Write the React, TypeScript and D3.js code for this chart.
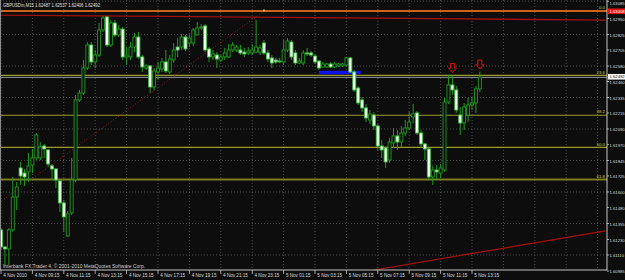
import React from "react";
import * as d3 from "d3";

const W = 625;
const H = 280;
const PLOT_R = 607;
const PLOT_B = 270;

const titleText = "GBPUSDm,M15  1.62487 1.62537 1.62406 1.62492";
const copyrightText = "Interbank FX Trader 4, \u00A9 2001-2010 MetaQuotes Software Corp.";

const timeLabels = [
  "4 Nov 2010", "4 Nov 09:15", "4 Nov 11:15", "4 Nov 13:15", "4 Nov 15:15",
  "4 Nov 17:15", "4 Nov 19:15", "4 Nov 21:15", "4 Nov 23:15", "5 Nov 01:15",
  "5 Nov 03:15", "5 Nov 05:15", "5 Nov 07:15", "5 Nov 09:15", "5 Nov 11:15",
  "5 Nov 13:15",
];
const barsPerLabel = 8;
const gridBarCount = 153;

const priceLabels = [
  "1.63085", "1.62950", "1.62825", "1.62705", "1.62580", "1.62460", "1.62335",
  "1.62215", "1.62090", "1.61970", "1.61845", "1.61725", "1.61600", "1.61480",
  "1.61355", "1.61230", "1.61110", "1.60985",
];
const gridPrices = [1.63085, 1.62825, 1.6258, 1.62335, 1.6209, 1.61845, 1.616, 1.61355, 1.6111];

const opens = [
  1.61305, 1.61172, 1.61157, 1.61305, 1.61561, 1.61787, 1.61748, 1.61756, 1.6181, 1.61865,
  1.61865, 1.61958, 1.61927, 1.61803, 1.61779, 1.61686, 1.61515, 1.61258, 1.61437, 1.61694,
  1.62316, 1.6237, 1.62565, 1.62744, 1.62612, 1.62666, 1.62861, 1.62962, 1.62744, 1.62915,
  1.62822, 1.62868, 1.62651, 1.62651, 1.62728, 1.62806, 1.62651, 1.62565, 1.62581, 1.62417,
  1.62534, 1.62557, 1.62612, 1.62534, 1.62627, 1.62728, 1.62728, 1.62806, 1.62759, 1.62759,
  1.62822, 1.62876, 1.62892, 1.62713, 1.62651, 1.62666, 1.62627, 1.62651, 1.62651, 1.62705,
  1.62705, 1.62705, 1.62689, 1.62682, 1.62682, 1.62689, 1.62689, 1.62759, 1.62682, 1.62643,
  1.62627, 1.62619, 1.62612, 1.62705, 1.62767, 1.62682, 1.62604, 1.62604, 1.62682, 1.62682,
  1.62658, 1.62619, 1.62573, 1.62573, 1.62596, 1.62573, 1.62581, 1.62581, 1.62588, 1.62643,
  1.62534, 1.62409, 1.62316, 1.62254, 1.6216, 1.62199, 1.62114, 1.61958, 1.61943, 1.61849,
  1.61981, 1.62036, 1.61989, 1.62059, 1.62098, 1.62184, 1.62215, 1.62059, 1.61974, 1.61935,
  1.61717, 1.61771, 1.61748, 1.61771, 1.623, 1.62433, 1.62394, 1.62199, 1.62137, 1.62199,
  1.62277, 1.62293, 1.62402,
];
const highs = [
  1.6132, 1.6118, 1.6132, 1.61717, 1.61678, 1.61834, 1.61779, 1.61904, 1.61935, 1.62059,
  1.61989, 1.61974, 1.61935, 1.61818, 1.61787, 1.61701, 1.61538, 1.61452, 1.61865, 1.62355,
  1.62394, 1.62627, 1.62767, 1.62767, 1.62705, 1.62915, 1.6297, 1.6297, 1.62938, 1.62938,
  1.62899, 1.62884, 1.62728, 1.62767, 1.62837, 1.62845, 1.62666, 1.62596, 1.62588, 1.62565,
  1.62612, 1.62643, 1.62705, 1.62666, 1.62759, 1.62798, 1.62829, 1.62822, 1.62822, 1.62876,
  1.62923, 1.62907, 1.62907, 1.62728, 1.62705, 1.62689, 1.62666, 1.62721, 1.62752, 1.62767,
  1.62744, 1.62744, 1.62721, 1.62728, 1.62752, 1.62938, 1.62744, 1.62783, 1.62705, 1.62666,
  1.62643, 1.62643, 1.62783, 1.62798, 1.62783, 1.62705, 1.62643, 1.62705, 1.62721, 1.62697,
  1.62674, 1.62627, 1.62612, 1.62604, 1.62612, 1.62612, 1.62604, 1.62604, 1.62651, 1.62651,
  1.62549, 1.62425, 1.62339, 1.62285, 1.62238, 1.62223, 1.62129, 1.62005, 1.61958, 1.6202,
  1.62098, 1.62083, 1.62114, 1.6216, 1.62223, 1.62285, 1.6223, 1.62083, 1.61981, 1.61943,
  1.61803, 1.6181, 1.61818, 1.62332, 1.6251, 1.6251, 1.62425, 1.62262, 1.62293, 1.62332,
  1.62339, 1.62425, 1.62537,
];
const lows = [
  1.61149, 1.61025, 1.61032, 1.61289, 1.6146, 1.61655, 1.61647, 1.61678, 1.61748, 1.61849,
  1.61849, 1.61865, 1.61795, 1.61694, 1.61631, 1.61445, 1.61289, 1.6125, 1.61421, 1.61678,
  1.623, 1.62355, 1.62549, 1.62588, 1.62565, 1.62651, 1.62845, 1.62728, 1.62728, 1.62806,
  1.62806, 1.62627, 1.62588, 1.62627, 1.62689, 1.62635, 1.62534, 1.62549, 1.6237, 1.62394,
  1.62472, 1.62534, 1.62526, 1.62518, 1.62604, 1.62651, 1.62705, 1.62697, 1.62728, 1.62736,
  1.62822, 1.62861, 1.62689, 1.62612, 1.62627, 1.62565, 1.62612, 1.62627, 1.62643, 1.62689,
  1.62689, 1.62666, 1.62651, 1.62666, 1.62666, 1.62682, 1.62666, 1.62666, 1.62612, 1.62565,
  1.62596, 1.62604, 1.62588, 1.62689, 1.62627, 1.62588, 1.62596, 1.62588, 1.62658, 1.62651,
  1.62596, 1.62549, 1.62565, 1.62565, 1.62565, 1.62565, 1.62573, 1.62573, 1.62581, 1.62526,
  1.62378, 1.62277, 1.62223, 1.62145, 1.62129, 1.62083, 1.61927, 1.61865, 1.61787, 1.61826,
  1.61943, 1.61927, 1.6195, 1.62036, 1.62083, 1.62137, 1.62044, 1.61943, 1.61849, 1.61694,
  1.61655, 1.61694, 1.61709, 1.61756, 1.62285, 1.62355, 1.62215, 1.62044, 1.62083, 1.62145,
  1.62238, 1.62215, 1.62378,
];
const closes = [
  1.61172, 1.61157, 1.61305, 1.61561, 1.61639, 1.61725, 1.61717, 1.61803, 1.61865, 1.62044,
  1.6195, 1.61935, 1.61818, 1.61779, 1.61694, 1.61515, 1.61406, 1.61429, 1.61694, 1.62316,
  1.6237, 1.62565, 1.62744, 1.62612, 1.62666, 1.62861, 1.62954, 1.62744, 1.62915, 1.62822,
  1.62868, 1.62651, 1.62666, 1.62728, 1.62806, 1.62651, 1.62573, 1.62581, 1.62417, 1.62542,
  1.62565, 1.62612, 1.62542, 1.62635, 1.62705, 1.62705, 1.62806, 1.62713, 1.62798, 1.62861,
  1.62876, 1.62884, 1.62705, 1.62651, 1.62674, 1.62635, 1.62651, 1.62682, 1.62705, 1.62744,
  1.62728, 1.62682, 1.62674, 1.62697, 1.62705, 1.62728, 1.62721, 1.62682, 1.62635, 1.62604,
  1.62612, 1.62612, 1.62705, 1.62775, 1.62651, 1.62604, 1.62619, 1.62682, 1.62674, 1.62666,
  1.62612, 1.62565, 1.62596, 1.62596, 1.62573, 1.62596, 1.62596, 1.62596, 1.62643, 1.62534,
  1.62394, 1.62293, 1.62254, 1.62176, 1.62207, 1.62114, 1.61958, 1.61927, 1.61834, 1.61989,
  1.62036, 1.61989, 1.62059, 1.62098, 1.62145, 1.62207, 1.62059, 1.61974, 1.61935, 1.61717,
  1.61771, 1.61756, 1.61787, 1.623, 1.62433, 1.62394, 1.62238, 1.62137, 1.62262, 1.62277,
  1.62293, 1.62402, 1.62492,
];

// Fibonacci retracement
const fibHigh = 1.63008;
const fibLow = 1.60886;
const fibLevels = [0, 23.6, 38.2, 50.0, 61.8];
const fibLevelNames = ["0.0", "23.6", "38.2", "50.0", "61.8"];
const fibAnchorBars = [-29, 67];

// other objects
const topTrend: [number, number][] = [[0, 1.62977], [154, 1.62938]];
const bottomTrend: [number, number][] = [[95, 1.60993], [154, 1.61297]];
const blueSegment: [number, number][] = [[81, 1.6253], [91.6, 1.6253]];
const arrowBars = [115, 122];
const bidPrice = 1.62492;
const bidLabel = "1.62492";
const levelLabel = "1.63008";

const FONT = "'Liberation Sans', Arial, sans-serif";

export default function App() {
  const x = d3.scaleLinear().domain([0, 120]).range([1, 472]);
  const y = d3.scaleLinear().domain([1.60993, 1.63094]).range([PLOT_B, 0]);
  const line = d3.line<[number, number]>().x((d) => x(d[0])).y((d) => y(d[1]));

  const bars = d3.range(opens.length).map((i) => ({
    i, o: opens[i], h: highs[i], l: lows[i], c: closes[i],
  }));
  const gridBars = d3.range(0, gridBarCount, barsPerLabel);
  const fibPrice = (lv: number) => fibHigh - (fibHigh - fibLow) * lv / 100;

  const green = "#229a22";
  const bw = 3;
  const axisFont = 4.2;

  return (
    <svg width={W} height={H} style={{ position: "absolute", left: 0, top: 0, background: "#0d0d0d" }}
      fontFamily={FONT}>
      <defs>
        <clipPath id="plot"><rect x={0} y={0} width={PLOT_R} height={PLOT_B} /></clipPath>
      </defs>
      <rect x={0} y={0} width={W} height={H} fill="#0d0d0d" />

      <g clipPath="url(#plot)">
        {/* grid */}
        {gridBars.map((b) => (
          <line key={"gv" + b} x1={x(b)} x2={x(b)} y1={0} y2={PLOT_B}
            stroke="#5e5e5e" strokeWidth={0.8} strokeDasharray="1 2" />
        ))}
        {gridPrices.map((p) => (
          <line key={"gh" + p} x1={0} x2={PLOT_R} y1={y(p)} y2={y(p)}
            stroke="#5e5e5e" strokeWidth={0.8} strokeDasharray="1 2" />
        ))}

        {/* fib levels */}
        {fibLevels.map((lv) => (
          <line key={"fib" + lv} x1={0} x2={PLOT_R} y1={y(fibPrice(lv))} y2={y(fibPrice(lv))}
            stroke={lv === 61.8 ? "#7c7c22" : "#9c9c2c"} strokeWidth={lv === 61.8 ? 2 : 1.1} />
        ))}
        {fibLevels.map((lv, k) => (
          <text key={"fibt" + lv} x={605} y={y(fibPrice(lv)) - 1.8} fontSize={4.4} fill="#c8c84a"
            textAnchor="end">{fibLevelNames[k]}</text>
        ))}
        {/* fib diagonal */}
        <line x1={x(fibAnchorBars[0])} y1={y(fibLow)} x2={x(fibAnchorBars[1])} y2={y(fibHigh)}
          stroke="#a01818" strokeWidth={1} strokeDasharray="1 2" />

        {/* bid line */}
        <line x1={0} x2={PLOT_R} y1={y(bidPrice)} y2={y(bidPrice)} stroke="#a4a8b0" strokeWidth={0.9} />

        {/* top red trendline and orange level */}
        <path d={line(topTrend) || ""} stroke="#a01010" strokeWidth={1.3} fill="none" />
        <line x1={0} x2={PLOT_R} y1={y(fibHigh)} y2={y(fibHigh)} stroke="#f26a1c" strokeWidth={1.5} />
        <rect x={x(fibAnchorBars[1]) - 1} y={y(fibHigh) - 1.5} width={2} height={2} fill="#ffb060" />

        {/* bottom trendline */}
        <path d={line(bottomTrend) || ""} stroke="#a80e0e" strokeWidth={1.2} fill="none" />

        {/* blue segment */}
        <path d={line(blueSegment) || ""} stroke="#1010f0" strokeWidth={3.4} fill="none" />

        {/* candles */}
        {bars.map((b) => {
          const cx = x(b.i);
          const top = y(Math.max(b.o, b.c));
          const bot = y(Math.min(b.o, b.c));
          const bull = b.c >= b.o;
          return (
            <g key={"c" + b.i}>
              <line x1={cx} x2={cx} y1={y(b.h)} y2={y(b.l)} stroke={green} strokeWidth={1} />
              <rect x={cx - bw / 2} y={top} width={bw} height={Math.max(bot - top, 0.6)}
                fill={bull ? "#0d0d0d" : "#f4fff4"} stroke={bull ? green : "#48bf48"} strokeWidth={0.9} />
            </g>
          );
        })}

        {/* sell arrows */}
        {arrowBars.map((bi) => {
          const cx = x(bi);
          const by = y(highs[bi]) - 2.5;
          const pts = [[-2, -9], [2, -9], [2, -4.5], [4, -4.5], [0, 0], [-4, -4.5], [-2, -4.5]]
            .map((p) => `${cx + p[0]},${by + p[1]}`).join(" ");
          return <polygon key={"a" + bi} points={pts} fill="#0d0d0d" stroke="#e01010" strokeWidth={1} />;
        })}
      </g>

      {/* frame / axes */}
      <line x1={0.5} x2={0.5} y1={0} y2={PLOT_B} stroke="#8a8a8a" strokeWidth={1} />
      <line x1={PLOT_R} x2={PLOT_R} y1={0} y2={PLOT_B + 0.5} stroke="#c4c4c4" strokeWidth={1} />
      <line x1={0} x2={PLOT_R} y1={PLOT_B} y2={PLOT_B} stroke="#c4c4c4" strokeWidth={1} />

      {/* title & copyright */}
      <text x={3} y={7.2} fontSize={5} fill="#e0e0e0" textLength={97} lengthAdjust="spacingAndGlyphs">{titleText}</text>
      <text x={3} y={268} fontSize={4.8} fill="#d0d0d0" textLength={142} lengthAdjust="spacingAndGlyphs">{copyrightText}</text>

      {/* time axis */}
      {timeLabels.map((t, k) => {
        const tx = x(k * barsPerLabel);
        return (
          <g key={"t" + k}>
            <line x1={tx} x2={tx} y1={PLOT_B} y2={PLOT_B + 4} stroke="#c4c4c4" strokeWidth={0.8} />
            <text x={tx + 2.3} y={277.3} fontSize={4.6} fill="#dcdcdc">{t}</text>
          </g>
        );
      })}

      {/* price axis */}
      {priceLabels.map((p) => {
        const py = Math.min(y(+p), 276);
        return (
          <g key={"p" + p}>
            <line x1={PLOT_R} x2={PLOT_R + 2} y1={y(+p)} y2={y(+p)} stroke="#c4c4c4" strokeWidth={0.8} />
            <text x={609.5} y={Math.max(py + 2.3, 4.5)} fontSize={axisFont} fill="#dcdcdc">{p}</text>
          </g>
        );
      })}
      <rect x={608} y={y(fibHigh) - 2.6} width={17} height={5.6} fill="#e41414" />
      <text x={609.5} y={y(fibHigh) + 1.6} fontSize={axisFont} fill="#ffffff">{levelLabel}</text>
      <rect x={608} y={y(bidPrice) - 3.4} width={17} height={5.6} fill="#ffffff" />
      <text x={609.5} y={y(bidPrice) + 0.9} fontSize={axisFont} fill="#000000">{bidLabel}</text>
    </svg>
  );
}
